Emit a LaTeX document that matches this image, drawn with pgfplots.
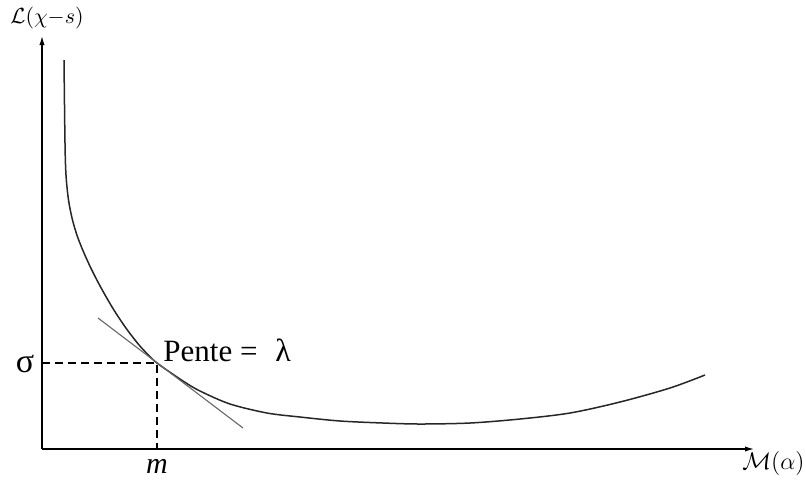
\documentclass[border=0pt]{standalone}
\usepackage{fontspec}
\setmainfont{Liberation Serif}
\usepackage{pgfplots}
\pgfplotsset{compat=1.18}
\usetikzlibrary{arrows.meta}

\begin{document}
\begin{tikzpicture}
\useasboundingbox (-21pt,-15pt) rectangle (382pt,224.5pt);
\begin{axis}[
  at={(0pt,0pt)}, anchor=origin,
  x=0.5pt, y=0.5pt,
  xmin=0, xmax=713, ymin=0, ymax=414,
  axis lines=left,
  axis line style={line width=0.9pt, -{Latex[length=5pt,width=2.6pt]}},
  xtick=\empty, ytick=\empty,
  clip=false,
]
% courbe
\addplot[smooth, line width=0.75pt, black!85] coordinates {
  (22,389) (23,306) (24,274) (26.5,249) (30.5,229) (35.6,212) (42,196)
  (49.8,179) (59.7,160) (71.3,140) (83.2,122) (95.4,106) (104.4,96) (115,86)
  (141,68) (158,58) (188,45) (225,36) (258,32) (298,28) (341,26) (378,25)
  (428,26) (478,30) (528,36) (578,47) (628,61) (663,74)};
% tangente
\addplot[line width=0.55pt, black!60] coordinates {(56,131) (201,21)};
% pointilles
\addplot[line width=0.6pt, dash pattern=on 4pt off 2.5pt] coordinates {(0,86) (115,86) (115,0)};

\node[font=\fontsize{15.5}{17}\selectfont, anchor=base west, inner sep=0pt] at (axis cs:121,88) {Pente =};
\node[font=\fontsize{16}{17}\selectfont, anchor=base west, inner sep=0pt] at (axis cs:233,88) {λ};
\node[font=\fontsize{17}{18}\selectfont] at (axis cs:-17,85) {σ};
\node[font=\fontsize{15}{16}\selectfont] at (axis cs:115,-17) {\textit{m}};
\node[font=\fontsize{11}{13}\selectfont, anchor=west, inner sep=0pt] at (axis cs:-32,431) {$\mathcal{L}(\chi{-}s)$};
\node[font=\fontsize{12.5}{14}\selectfont, anchor=west, inner sep=0pt] at (axis cs:700,-14) {$\mathcal{M}(\alpha)$};
\end{axis}
\end{tikzpicture}
\end{document}
